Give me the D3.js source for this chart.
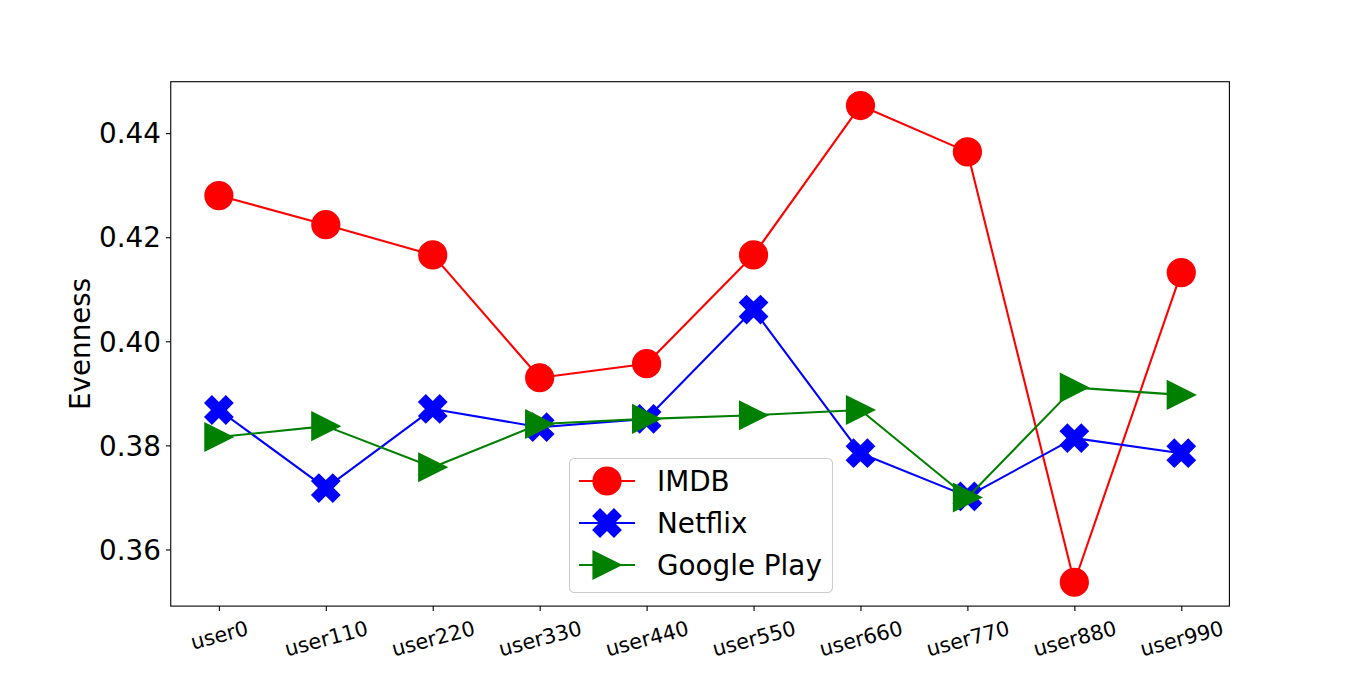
<!DOCTYPE html>
<html>
<head>
<meta charset="utf-8">
<script src="https://cdn.jsdelivr.net/npm/d3@7"></script>
<style>
  body { margin: 0; background: #fff; }
  svg { display: block; font-family: "DejaVu Sans", sans-serif; }
</style>
</head>
<body>
<svg id="chart" width="1366" height="681"></svg>
<script>
// categories and series
const users = ["user0", "user110", "user220", "user330", "user440", "user550", "user660", "user770", "user880", "user990"];
const imdb = [0.4280, 0.4224, 0.4166, 0.3930, 0.3957, 0.4166, 0.4453, 0.4364, 0.3537, 0.4132];
const netflix = [0.3868, 0.3718, 0.3870, 0.3835, 0.3851, 0.4061, 0.3785, 0.3702, 0.3814, 0.3785];
const googlePlay = [0.3816, 0.3837, 0.3758, 0.3841, 0.3851, 0.3858, 0.3868, 0.3700, 0.3911, 0.3897];
const yTicks = [0.36, 0.38, 0.40, 0.42, 0.44];

const series = [
    {name: "IMDB", values: imdb, color: "#ff0000", marker: "circle"},
    {name: "Netflix", values: netflix, color: "#0000ff", marker: "x"},
    {name: "Google Play", values: googlePlay, color: "#008000", marker: "triangle"}
];

const plotLeft = 170.75, plotRight = 1229.4, plotTop = 81.7, plotBottom = 606.1;
const ms = 27.8;   // marker size (20pt)

let svg = d3.select("#chart");

// matplotlib style 5% margins
let allVals = imdb.concat(netflix, googlePlay);
let yMin = d3.min(allVals), yMax = d3.max(allVals);
let yPad = (yMax - yMin) * 0.05;
let x = d3.scaleLinear().domain([-0.45, users.length - 1 + 0.45]).range([plotLeft, plotRight]);
let y = d3.scaleLinear().domain([yMin - yPad, yMax + yPad]).range([plotBottom, plotTop]);

// marker path generators, centered on 0,0
function markerPath(type, s) {
    if (type === "circle") {
        let r = s / 2;
        return `M${-r},0A${r},${r} 0 1,0 ${r},0A${r},${r} 0 1,0 ${-r},0Z`;
    }
    if (type === "x") {
        let pts = [[-1, -2], [0, -1], [1, -2], [2, -1], [1, 0], [2, 1],
                   [1, 2], [0, 1], [-1, 2], [-2, 1], [-1, 0], [-2, -1]];
        return "M" + pts.map(p => [p[0] / 4 * s, p[1] / 4 * s].join(",")).join("L") + "Z";
    }
    // triangle pointing right
    let h = s / 2;
    return `M${h},0L${-h},${-h}L${-h},${h}Z`;
}

// y axis
let yAxis = svg.append("g").attr("transform", `translate(${plotLeft},0)`)
    .call(d3.axisLeft(y).tickValues(yTicks).tickFormat(d3.format(".2f")).tickSize(4.9).tickPadding(4.9));
yAxis.select(".domain").remove();
yAxis.selectAll("line").attr("stroke", "#000").attr("stroke-width", 1.1);
yAxis.selectAll("text").attr("font-size", "27.8px").attr("fill", "#000")
    .attr("font-family", "DejaVu Sans").attr("dy", "0.35em");

// x axis
let xAxis = svg.append("g").attr("transform", `translate(0,${plotBottom})`)
    .call(d3.axisBottom(x).tickValues(d3.range(users.length)).tickFormat(i => users[i]).tickSize(4.9));
xAxis.select(".domain").remove();
xAxis.selectAll("line").attr("stroke", "#000").attr("stroke-width", 1.1);

// rotated tick labels, aligned like matplotlib (bbox centered, top under tick)
let fs = 20.8;
let ang = 15 * Math.PI / 180;
xAxis.selectAll(".tick text").each(function() {
    let t = d3.select(this);
    t.attr("y", null).attr("dy", null)
        .attr("font-size", fs + "px").attr("font-family", "DejaVu Sans").attr("fill", "#000")
        .attr("text-anchor", "middle");
    let w = this.getComputedTextLength();
    let h = fs * 1.164;
    let bh = w * Math.sin(ang) + h * Math.cos(ang);
    let cy = 4.9 + 4.9 + bh / 2;
    t.attr("dy", (0.346 * fs) + "px")
        .attr("transform", `translate(0,${cy}) rotate(-15)`);
});

// y label
svg.append("text")
    .attr("transform", `translate(80,${(plotTop + plotBottom) / 2}) rotate(-90)`)
    .attr("text-anchor", "middle").attr("dy", "0.35em")
    .attr("font-size", "27.8px").attr("fill", "#000")
    .text("Evenness");

// series
let line = d3.line().x((d, i) => x(i)).y(d => y(d));
let plot = svg.append("g");
series.forEach(function(s) {
    let g = plot.append("g");
    g.append("path").datum(s.values)
        .attr("d", line)
        .attr("fill", "none").attr("stroke", s.color).attr("stroke-width", 2.08)
        .attr("stroke-linejoin", "round");
    g.selectAll("path.mk").data(s.values).join("path")
        .attr("class", "mk")
        .attr("transform", (d, i) => `translate(${x(i)},${y(d)})`)
        .attr("d", markerPath(s.marker, ms))
        .attr("fill", s.color).attr("stroke", s.color).attr("stroke-width", 1.4);
});

svg.append("rect")
    .attr("x", plotLeft).attr("y", plotTop).attr("width", plotRight - plotLeft).attr("height", plotBottom - plotTop)
    .attr("fill", "none").attr("stroke", "#000").attr("stroke-width", 1.1);

// legend
let lg = svg.append("g").attr("transform", "translate(569,458)");
lg.append("rect").attr("x", 0.5).attr("y", 0.5).attr("width", 263).attr("height", 134)
    .attr("rx", 5).attr("fill", "#fff").attr("fill-opacity", 0.8)
    .attr("stroke", "#cccccc").attr("stroke-width", 1.1);
series.forEach(function(s, i) {
    let cy = 23 + i * 42;
    let row = lg.append("g").attr("transform", `translate(0,${cy})`);
    row.append("line").attr("x1", 10).attr("x2", 66).attr("y1", 0).attr("y2", 0)
        .attr("stroke", s.color).attr("stroke-width", 2.08);
    row.append("path").attr("transform", "translate(38,0)")
        .attr("d", markerPath(s.marker, ms))
        .attr("fill", s.color).attr("stroke", s.color).attr("stroke-width", 1.4);
    row.append("text").attr("x", 88).attr("dy", "0.35em")
        .attr("font-size", "27.8px").attr("fill", "#000")
        .text(s.name);
});
</script>
</body>
</html>
